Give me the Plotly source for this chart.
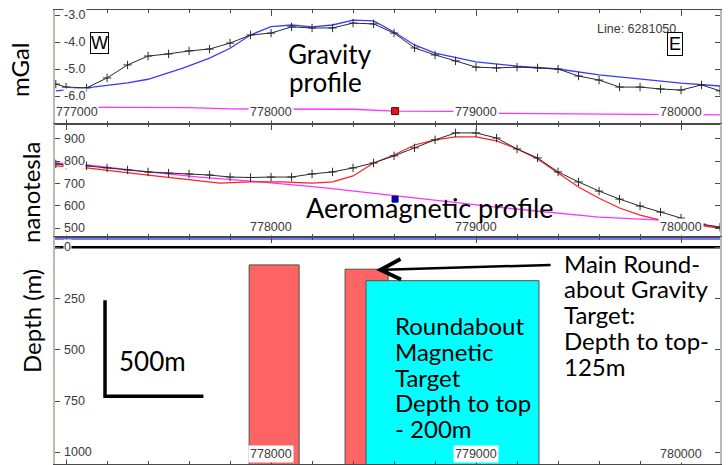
import plotly.graph_objects as go
from plotly.subplots import make_subplots

# ---------------- data ----------------
# Gravity panel (mGal)
grav_obs_x = [776950, 777000, 777100, 777200, 777300, 777400, 777500, 777600, 777700, 777800,
              777900, 778000, 778100, 778200, 778300, 778400, 778500, 778600, 778700, 778800,
              778900, 779000, 779100, 779200, 779300, 779400, 779500, 779600, 779700, 779800,
              779900, 780000, 780100, 780190]
grav_obs = [-5.56, -5.67, -5.70, -5.33, -4.85, -4.52, -4.44, -4.33, -4.26, -4.04,
            -3.74, -3.67, -3.44, -3.48, -3.48, -3.30, -3.33, -3.67, -4.22, -4.48,
            -4.70, -4.93, -4.96, -4.93, -4.96, -5.00, -5.26, -5.41, -5.67, -5.67,
            -5.74, -5.78, -5.59, -5.81]
grav_calc_x = [776950, 777100, 777300, 777400, 777570, 777700, 777800, 777900, 778000, 778100,
               778200, 778300, 778400, 778500, 778600, 778700, 778800, 779000, 779200, 779400,
               779600, 779800, 780000, 780190]
grav_calc = [-5.81, -5.70, -5.51, -5.38, -4.97, -4.60, -4.23, -3.74, -3.43, -3.37,
             -3.44, -3.37, -3.19, -3.22, -3.63, -4.11, -4.41, -4.74, -4.89, -5.00,
             -5.22, -5.37, -5.52, -5.63]
grav_ref_x = [776950, 777600, 777800, 778400, 778600, 778900, 779100, 779600, 779800, 780190]
grav_ref = [-6.41, -6.43, -6.48, -6.49, -6.56, -6.57, -6.64, -6.65, -6.68, -6.70]
grav_pt_x = [778605]
grav_pt = [-6.56]

# Magnetic panel (nT)
mag_obs_x = [776950, 777000, 777100, 777200, 777300, 777400, 777500, 777600, 777700, 777800,
             777900, 778000, 778100, 778200, 778300, 778400, 778500, 778600, 778700, 778800,
             778900, 779000, 779100, 779200, 779300, 779400, 779500, 779600, 779700, 779800,
             779900, 780000, 780100, 780190]
mag_obs = [788, 783, 779, 770, 761, 752, 747, 743, 738, 729,
           727, 729, 729, 743, 752, 770, 792, 824, 860, 896,
           927, 927, 904, 855, 815, 752, 707, 666, 630, 599,
           572, 545, 518, 504]
mag_calc_x = [776950, 777100, 777400, 777750, 777900, 778050, 778200, 778300, 778400, 778500,
              778600, 778700, 778800, 778900, 779000, 779100, 779200, 779300, 779400, 779500,
              779600, 779700, 779800, 779900, 780000, 780190]
mag_calc = [779, 770, 738, 702, 707, 707, 702, 707, 734, 792,
            828, 873, 896, 909, 909, 891, 855, 810, 747, 684,
            634, 590, 558, 536, 522, 500]
mag_ref_x = [776950, 777100, 777400, 777650, 777900, 778230, 778580, 779100, 779600, 779900, 780190]
mag_ref = [792, 783, 752, 729, 711, 684, 648, 594, 549, 536, 504]
mag_pt_x = [778605]
mag_pt = [630]

# Depth section (m)
target_left = [777893, 778361, 778463]
target_right = [778137, 778571, 779307]
target_top = [86, 107, 163]
target_colors = ["#ff6464", "#ff6464", "#00ffff"]
surface_x = [776946, 780190]
surface_depth = [0, 0]
flight_depth = [-40, -40]
scale_x = [777190, 777190, 777670]
scale_depth = [258, 727, 727]

# Axis ranges / ticks
X_MIN, X_MAX = 776946, 780190
grav_range = [-7.037, -2.815]
mag_range = [460, 967]
depth_range = [1057, -50]
grav_ticks = [-3.0, -4.0, -5.0, -6.0, -7.0]
grav_ticklabels = ["-3.0", "-4.0", "-5.0", "-6.0", ""]
mag_ticks = [900, 800, 700, 600, 500]
mag_ticklabels = ["900", "800", "700", "600", "500"]
depth_ticks = [0, 250, 500, 750, 1000]
depth_ticklabels = ["0", "250", "500", "750", "1000"]
x_ticks = [777000, 778000, 779000, 780000]
x_ticklabels = ["777000", "778000", "779000", "780000"]

# ---------------- layout helpers ----------------
W, H = 728, 465
ML, MR, MT, MB = 55, 8, 10, 1
PW = W - ML - MR
PH = H - MT - MB


def px(x):
    return (x - ML) / PW


def py(y):
    return (H - MB - y) / PH


fig = make_subplots(rows=3, cols=1, shared_xaxes=False, vertical_spacing=0)

BLK = "#2a2a2a"
fig.add_trace(go.Scatter(x=grav_ref_x, y=grav_ref, mode="lines",
                         line=dict(color="#ff33ff", width=1.3)), row=1, col=1)
fig.add_trace(go.Scatter(x=grav_calc_x, y=grav_calc, mode="lines",
                         line=dict(color="#3a3aff", width=1.3)), row=1, col=1)
fig.add_trace(go.Scatter(x=grav_obs_x, y=grav_obs, mode="lines+markers",
                         line=dict(color=BLK, width=1),
                         marker=dict(symbol="cross-thin", size=6, line=dict(color=BLK, width=1))),
              row=1, col=1)
fig.add_trace(go.Scatter(x=grav_pt_x, y=grav_pt, mode="markers",
                         marker=dict(symbol="square", size=7, color="#ee1111",
                                     line=dict(color="#550000", width=1))), row=1, col=1)

fig.add_trace(go.Scatter(x=mag_ref_x, y=mag_ref, mode="lines",
                         line=dict(color="#ff33ff", width=1.3)), row=2, col=1)
fig.add_trace(go.Scatter(x=mag_calc_x, y=mag_calc, mode="lines",
                         line=dict(color="#ff2020", width=1.2)), row=2, col=1)
fig.add_trace(go.Scatter(x=mag_obs_x, y=mag_obs, mode="lines+markers",
                         line=dict(color=BLK, width=1),
                         marker=dict(symbol="cross-thin", size=6, line=dict(color=BLK, width=1))),
              row=2, col=1)
fig.add_trace(go.Scatter(x=mag_pt_x, y=mag_pt, mode="markers",
                         marker=dict(symbol="square", size=6, color="#0000cc",
                                     line=dict(color="#000066", width=1))), row=2, col=1)

centers = [(l + r) / 2 for l, r in zip(target_left, target_right)]
widths = [r - l for l, r in zip(target_left, target_right)]
heights = [1200 - t for t in target_top]
fig.add_trace(go.Bar(x=centers, y=heights, base=target_top, width=widths,
                     marker=dict(color=target_colors, line=dict(color="#505050", width=1))),
              row=3, col=1)
fig.add_trace(go.Scatter(x=surface_x, y=flight_depth, mode="lines",
                         line=dict(color="#4a4aff", width=1.5)), row=3, col=1)
fig.add_trace(go.Scatter(x=surface_x, y=surface_depth, mode="lines",
                         line=dict(color="#000000", width=2.5)), row=3, col=1)
fig.add_trace(go.Scatter(x=scale_x, y=scale_depth, mode="lines",
                         line=dict(color="#000000", width=3.5)), row=3, col=1)

xcommon = dict(range=[X_MIN, X_MAX], showline=True, linecolor="#4a4a4a", linewidth=1,
               mirror="ticks", ticks="inside", ticklen=6, tickcolor="#4a4a4a",
               tick0=777000, dtick=1000,
               minor=dict(ticks="inside", ticklen=3, dtick=200, tick0=777000, tickcolor="#4a4a4a"),
               showticklabels=False, showgrid=False, zeroline=False)
ycommon = dict(showline=True, linecolor="#bdb9b1", linewidth=2, mirror="ticks",
               ticks="inside", ticklen=5, tickcolor="#4a4a4a",
               showticklabels=False, showgrid=False, zeroline=False)

fig.update_layout(
    xaxis=dict(xcommon, domain=[0, 1]),
    xaxis2=dict(xcommon, domain=[0, 1]),
    xaxis3=dict(xcommon, domain=[0, 1]),
    yaxis=dict(ycommon, domain=[py(124), 1], range=grav_range, tickvals=grav_ticks),
    yaxis2=dict(ycommon, domain=[py(237), py(124)], range=mag_range, tickvals=mag_ticks),
    yaxis3=dict(ycommon, domain=[0, py(237)], range=depth_range, tickvals=depth_ticks),
)

ann = []
TICKFONT = dict(family="Liberation Sans, Arial", size=12.5, color="#3a3a3a")
# y tick labels (inside, white background)
for yref, vals, labs in (("y", grav_ticks, grav_ticklabels),
                         ("y2", mag_ticks, mag_ticklabels),
                         ("y3", depth_ticks, depth_ticklabels)):
    for v, t in zip(vals, labs):
        if t:
            ann.append(dict(xref="paper", yref=yref, x=px(63), y=v, text=t, showarrow=False,
                            xanchor="left", yanchor="middle", font=TICKFONT,
                            bgcolor="white", borderpad=0))
# x tick labels (inside, white background)
for xref, ypix, labs_used in (("x", 112, x_ticklabels),
                              ("x2", 227, x_ticklabels[1:]),
                              ("x3", 454, x_ticklabels[1:])):
    for v, t in zip(x_ticks, x_ticklabels):
        if t not in labs_used:
            continue
        if v - 100 < X_MIN:
            ann.append(dict(xref=xref, yref="paper", x=X_MIN, y=py(ypix), text=t, showarrow=False,
                            xanchor="left", yanchor="middle", font=TICKFONT,
                            bgcolor="white", borderpad=0))
        else:
            ann.append(dict(xref=xref, yref="paper", x=v, y=py(ypix), text=t, showarrow=False,
                            xanchor="center", yanchor="middle", font=TICKFONT,
                            bgcolor="white", borderpad=1))

BIG = "Lato, Open Sans, sans-serif"


def txt(x, y, s, size, anchor="center", angle=0, color="#000000", family=BIG, **kw):
    d = dict(xref="paper", yref="paper", x=px(x), y=py(y), text=s, showarrow=False,
             xanchor=anchor, yanchor="middle", textangle=angle,
             font=dict(family=family, size=size, color=color))
    d.update(kw)
    return d


ann += [
    txt(19, 70, "mGal", 24, angle=-90),
    txt(30, 193, "nanotesla", 24, angle=-90),
    txt(31, 321, "Depth (m)", 24, angle=-90),
    txt(286, 54, "Gravity", 26, anchor="left"),
    txt(287, 82, "profile", 26, anchor="left"),
    txt(430, 207, "Aeromagnetic profile", 27),
    txt(636, 29, "Line: 6281050", 12.5, family="Liberation Sans, Arial", color="#3a3a3a"),
    txt(99.5, 43.5, "W", 18, family="Liberation Sans, Arial", bordercolor="#000000",
        borderwidth=1, borderpad=0, bgcolor="white"),
    txt(675, 44, "E", 18, family="Liberation Sans, Arial", bordercolor="#000000",
        borderwidth=1, borderpad=1, bgcolor="white"),
    txt(152.5, 361, "500m", 26),
]
for yy, s in zip([325, 351, 377, 402, 428],
                 ["Roundabout", "Magnetic", "Target", "Depth to top", "- 200m"]):
    ann.append(txt(393, yy, s, 24, anchor="left"))
for yy, s in zip([263.5, 288.5, 314, 340.5, 366],
                 ["Main Round-", "about Gravity", "Target:", "Depth to top-", "125m"]):
    ann.append(txt(562, yy, s, 24, anchor="left"))

# arrow pointing at the gravity target top
ann.append(dict(xref="x3", yref="y3", axref="x3", ayref="y3",
                x=778512, y=111, ax=779371, ay=86, text="", showarrow=True,
                arrowhead=5, arrowwidth=2.5, arrowsize=1.6, arrowcolor="#000000"))

fig.update_layout(
    width=W, height=H,
    margin=dict(l=ML, r=MR, t=MT, b=MB),
    paper_bgcolor="white", plot_bgcolor="white",
    showlegend=False, barmode="overlay",
    annotations=ann,
)

fig.write_html("out.html", config={"displayModeBar": False},
               post_script="document.body.style.margin='0px';document.body.style.padding='0px';")
